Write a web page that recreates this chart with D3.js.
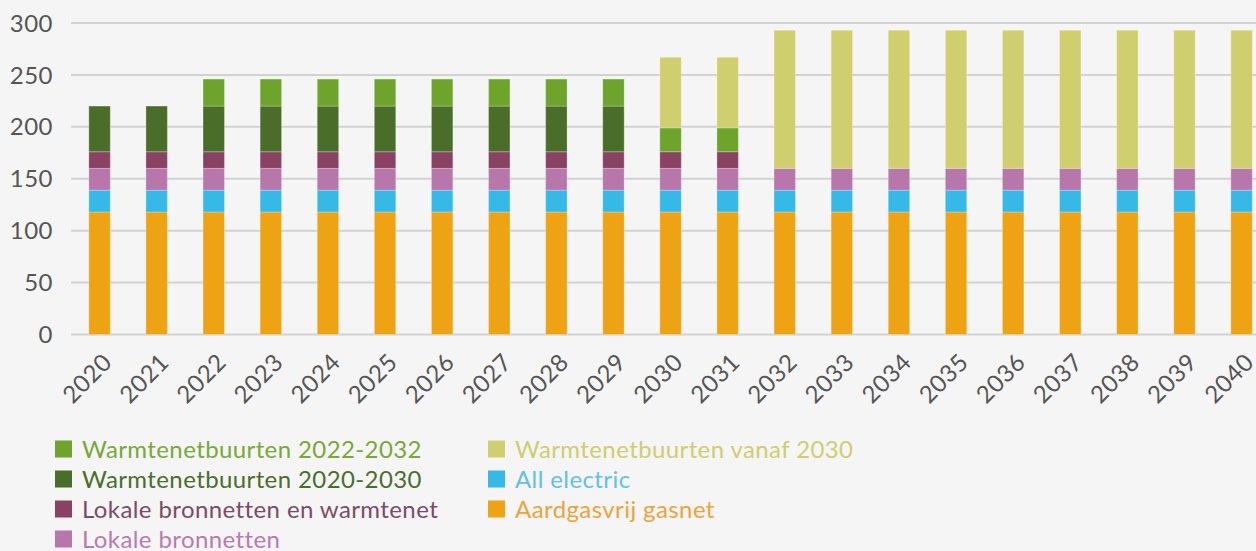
<!DOCTYPE html>
<html>
<head>
<meta charset="utf-8">
<script src="https://cdn.jsdelivr.net/npm/d3@7"></script>
<style>
  body { margin: 0; background: #f5f5f5; }
  svg { display: block; font-family: Lato, "Open Sans", sans-serif; }
</style>
</head>
<body>
<svg id="chart" width="1256" height="551"></svg>
<script>
// jaren
var years = ["2020","2021","2022","2023","2024","2025","2026","2027","2028","2029",
  "2030","2031","2032","2033","2034","2035","2036","2037","2038","2039","2040"];

// series (onder naar boven)
var aardgasvrij   = [118,118,118,118,118,118,118,118,118,118,118,118,118,118,118,118,118,118,118,118,118];
var allElectric   = [21,21,21,21,21,21,21,21,21,21,21,21,21,21,21,21,21,21,21,21,21];
var lokaal        = [21,21,21,21,21,21,21,21,21,21,21,21,21,21,21,21,21,21,21,21,21];
var lokaalWarmte  = [16,16,16,16,16,16,16,16,16,16,16,16,0,0,0,0,0,0,0,0,0];
var warmte2020    = [44,44,44,44,44,44,44,44,44,44,0,0,0,0,0,0,0,0,0,0,0];
var warmte2022    = [0,0,26,26,26,26,26,26,26,26,23,23,0,0,0,0,0,0,0,0,0];
var warmteVanaf   = [0,0,0,0,0,0,0,0,0,0,68,68,133,133,133,133,133,133,133,133,133];

var yTicks = [0, 50, 100, 150, 200, 250, 300];

var series = [
  {key: "aardgasvrij", name: "Aardgasvrij gasnet", values: aardgasvrij, color: "#eea314", text: "#eca43a"},
  {key: "allElectric", name: "All electric", values: allElectric, color: "#36b9e6", text: "#62c0e8"},
  {key: "lokaal", name: "Lokale bronnetten", values: lokaal, color: "#b777ab", text: "#b87bb1"},
  {key: "lokaalWarmte", name: "Lokale bronnetten en warmtenet", values: lokaalWarmte, color: "#894262", text: "#7e4a68"},
  {key: "warmte2020", name: "Warmtenetbuurten 2020-2030", values: warmte2020, color: "#4a6e2a", text: "#4b6e2c"},
  {key: "warmte2022", name: "Warmtenetbuurten 2022-2032", values: warmte2022, color: "#6fa42c", text: "#79a83a"},
  {key: "warmteVanaf", name: "Warmtenetbuurten vanaf 2030", values: warmteVanaf, color: "#d0cf6f", text: "#d0cd70"}
];

var rows = years.map(function(y, i) {
  var r = {year: y};
  series.forEach(function(s) { r[s.key] = s.values[i]; });
  return r;
});

var svg = d3.select("#chart");
var plotLeft = 71, plotTop = 23, plotH = 311.5;

var x = d3.scaleBand()
  .domain(years)
  .range([plotLeft, plotLeft + 57.1 * years.length])
  .paddingInner(0.625)
  .paddingOuter(0.3125);

var y = d3.scaleLinear().domain([0, 300]).range([plotTop + plotH, plotTop]);

// rasterlijnen
svg.append("g").selectAll("line")
  .data(yTicks)
  .enter().append("line")
  .attr("x1", plotLeft).attr("x2", 1256)
  .attr("y1", function(d) { return y(d); })
  .attr("y2", function(d) { return y(d); })
  .attr("stroke", "#d2d2d2")
  .attr("stroke-width", 2);

// y labels
svg.append("g").selectAll("text")
  .data(yTicks)
  .enter().append("text")
  .attr("x", 53)
  .attr("y", function(d) { return y(d); })
  .attr("dy", "0.36em")
  .attr("text-anchor", "end")
  .attr("font-size", 24)
  .attr("letter-spacing", 0.5)
  .attr("fill", "#555")
  .text(function(d) { return d; });

var stack = d3.stack().keys(series.map(function(s) { return s.key; }));
var stacked = stack(rows);

svg.append("g").selectAll("g")
  .data(stacked)
  .enter().append("g")
  .attr("fill", function(d, i) { return series[i].color; })
  .selectAll("rect")
  .data(function(d) { return d.filter(function(p) { return p[1] - p[0] > 0; }); })
  .enter().append("rect")
  .attr("x", function(d) { return x(d.data.year); })
  .attr("width", x.bandwidth())
  .attr("y", function(d) { return y(d[1]); })
  .attr("height", function(d) { return y(d[0]) - y(d[1]); })
  .attr("stroke", "rgba(255,255,255,0.25)")
  .attr("stroke-width", 1);

// x labels
svg.append("g").selectAll("text")
  .data(years)
  .enter().append("text")
  .attr("text-anchor", "end")
  .attr("font-size", 24)
  .attr("letter-spacing", 0.5)
  .attr("fill", "#555")
  .attr("transform", function(d) {
    var cx = x(d) + x.bandwidth() / 2 + 2;
    return "translate(" + cx + ",352) rotate(-45)";
  })
  .attr("dy", "0.7em")
  .text(function(d) { return d; });

// legenda
var legendOrder = [
  ["warmte2022", 55, 449], ["warmte2020", 55, 479], ["lokaalWarmte", 55, 509], ["lokaal", 55, 539],
  ["warmteVanaf", 488, 449], ["allElectric", 488, 479], ["aardgasvrij", 488, 509]
];
var leg = svg.append("g").selectAll("g")
  .data(legendOrder)
  .enter().append("g")
  .attr("transform", function(d) { return "translate(" + d[1] + "," + d[2] + ")"; });

leg.append("rect")
  .attr("x", 0).attr("y", -8.5)
  .attr("width", 17).attr("height", 17)
  .attr("fill", function(d) { return series.find(function(s) { return s.key === d[0]; }).color; });

leg.append("text")
  .attr("x", 27)
  .attr("dy", "0.36em")
  .attr("font-size", 24)
  .attr("letter-spacing", 0.4)
  .attr("fill", function(d) { return series.find(function(s) { return s.key === d[0]; }).text; })
  .text(function(d) { return series.find(function(s) { return s.key === d[0]; }).name; });
</script>
</body>
</html>
